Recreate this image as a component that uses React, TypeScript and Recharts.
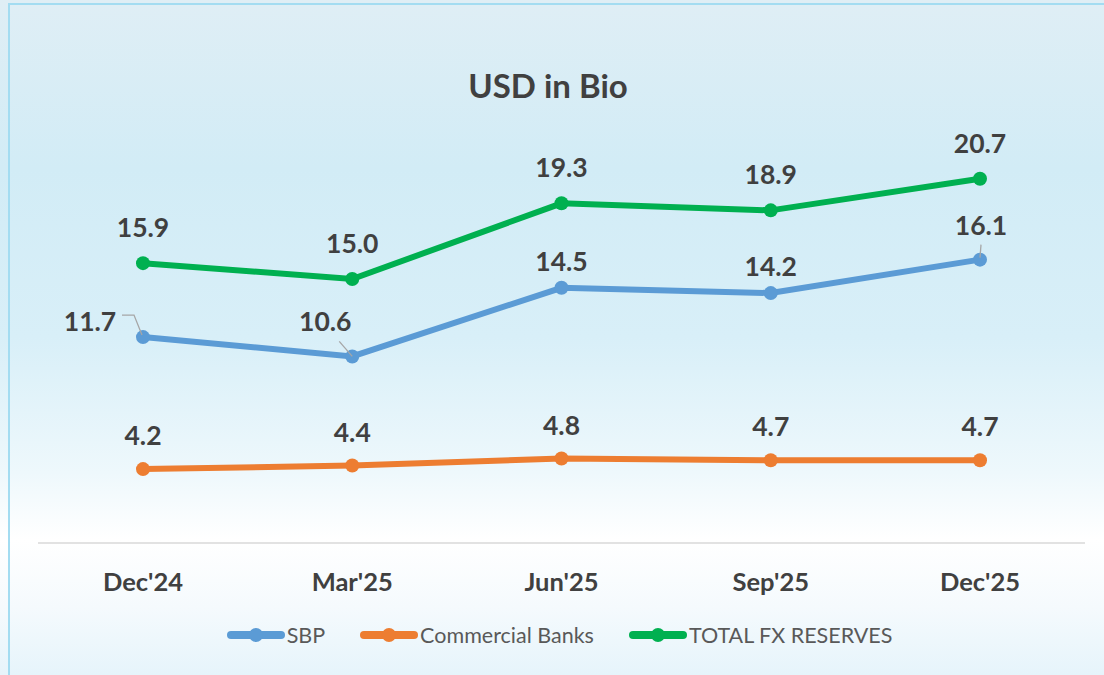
import React from "react";
import { LineChart, Line, XAxis, YAxis, LabelList } from "recharts";

const categories = ["Dec'24", "Mar'25", "Jun'25", "Sep'25", "Dec'25"];
const sbpValues = [11.7, 10.6, 14.5, 14.2, 16.1];
const bankValues = [4.2, 4.4, 4.8, 4.7, 4.7];
const totalValues = [15.9, 15.0, 19.3, 18.9, 20.7];
const seriesNames = ["SBP", "Commercial Banks", "TOTAL FX RESERVES"];
const seriesColors = ["#5b9bd5", "#ed7d31", "#00b050"];

const data = categories.map((c, i) => ({
  name: c,
  sbp: sbpValues[i],
  banks: bankValues[i],
  total: totalValues[i],
}));

const FONT = "Lato, 'Open Sans', sans-serif";
const LABEL_COLOR = "#404040";

const makeLabel = (series: string) => (props: any) => {
  const { x, y, value, index } = props;
  let tx = x;
  let ty = y - 36;
  let leader: React.ReactNode = null;
  if (series === "banks") ty = y - 34;
  if (series === "sbp") {
    if (index === 0) {
      tx = x - 53;
      ty = y - 16;
      leader = (
        <polyline
          points={`${x - 21},${y - 22} ${x - 9},${y - 22} ${x - 1},${y - 2}`}
          fill="none"
          stroke="#a6a6a6"
          strokeWidth={1.3}
        />
      );
    } else if (index === 1) {
      tx = x - 27;
      ty = y - 35;
      leader = (
        <line x1={x - 13} y1={y - 15} x2={x} y2={y} stroke="#a6a6a6" strokeWidth={1.3} />
      );
    } else if (index === 4) {
      tx = x + 1;
      ty = y - 35;
      leader = (
        <line x1={x + 1} y1={y - 15} x2={x} y2={y - 2} stroke="#a6a6a6" strokeWidth={1.3} />
      );
    } else {
      ty = y - 27;
    }
  }
  return (
    <g>
      {leader}
      <text
        x={tx}
        y={ty}
        textAnchor="middle"
        dominantBaseline="central"
        fontFamily={FONT}
        fontWeight={700}
        fontSize={26.5}
        fill={LABEL_COLOR}
      >
        {Number(value).toFixed(1)}
      </text>
    </g>
  );
};

const CategoryTick = (props: any) => {
  const { x, y, payload } = props;
  return (
    <text
      x={x}
      y={y + 36}
      textAnchor="middle"
      dominantBaseline="central"
      fontFamily={FONT}
      fontWeight={700}
      fontSize={25.5}
      fill={LABEL_COLOR}
    >
      {payload.value}
    </text>
  );
};

const LegendItem = ({ name, color }: { name: string; color: string }) => (
  <div style={{ display: "flex", alignItems: "center", marginRight: 34 }}>
    <svg width={60} height={16} style={{ display: "block" }}>
      <line x1={5} y1={8} x2={55} y2={8} stroke={color} strokeWidth={8} strokeLinecap="round" />
      <circle cx={30} cy={8} r={7} fill={color} />
    </svg>
    <span style={{ fontFamily: FONT, fontSize: 21.5, color: "#595959", marginLeft: 1 }}>{name}</span>
  </div>
);

export default function App() {
  return (
    <div
      style={{
        position: "absolute",
        left: 0,
        top: 0,
        width: 1104,
        height: 675,
        overflow: "hidden",
        background:
          "linear-gradient(to bottom, #dfeef5 0%, #d2ecf6 25%, #d8eff8 50%, #eef8fc 70%, #ffffff 80%, #f5fafd 90%, #e6f4fb 100%)",
      }}
    >
      <div
        style={{
          position: "absolute",
          left: 8,
          top: 3,
          width: 1110,
          height: 690,
          borderLeft: "2px solid #a3dcf1",
          borderTop: "2px solid #a3dcf1",
        }}
      />
      <div
        style={{
          position: "absolute",
          left: 0,
          top: 65,
          width: 1096,
          textAlign: "center",
          fontFamily: FONT,
          fontWeight: 700,
          fontSize: 33,
          color: LABEL_COLOR,
        }}
      >
        USD in Bio
      </div>
      <div style={{ position: "absolute", left: 0, top: 0 }}>
        <LineChart
          width={1104}
          height={675}
          data={data}
          margin={{ top: 103, right: 19, bottom: 82, left: 38 }}
        >
          <XAxis
            dataKey="name"
            height={50}
            padding={{ left: 105, right: 105 }}
            tickLine={false}
            tickSize={0}
            axisLine={{ stroke: "#d9d9d9", strokeWidth: 1.5 }}
            tick={<CategoryTick />}
            interval={0}
          />
          <YAxis hide domain={[0, 25]} width={0} />
          <Line
            dataKey="sbp"
            stroke={seriesColors[0]}
            strokeWidth={6}
            dot={{ r: 7, fill: seriesColors[0], stroke: seriesColors[0], strokeWidth: 0 }}
            isAnimationActive={false}
          >
            <LabelList dataKey="sbp" content={makeLabel("sbp")} />
          </Line>
          <Line
            dataKey="banks"
            stroke={seriesColors[1]}
            strokeWidth={6}
            dot={{ r: 7, fill: seriesColors[1], stroke: seriesColors[1], strokeWidth: 0 }}
            isAnimationActive={false}
          >
            <LabelList dataKey="banks" content={makeLabel("banks")} />
          </Line>
          <Line
            dataKey="total"
            stroke={seriesColors[2]}
            strokeWidth={6}
            dot={{ r: 7, fill: seriesColors[2], stroke: seriesColors[2], strokeWidth: 0 }}
            isAnimationActive={false}
          >
            <LabelList dataKey="total" content={makeLabel("total")} />
          </Line>
        </LineChart>
      </div>
      <div
        style={{
          position: "absolute",
          left: 0,
          top: 622,
          width: 1104,
          display: "flex",
          justifyContent: "center",
          paddingLeft: 48,
          boxSizing: "border-box",
        }}
      >
        {seriesNames.map((n, i) => (
          <LegendItem key={n} name={n} color={seriesColors[i]} />
        ))}
      </div>
    </div>
  );
}
